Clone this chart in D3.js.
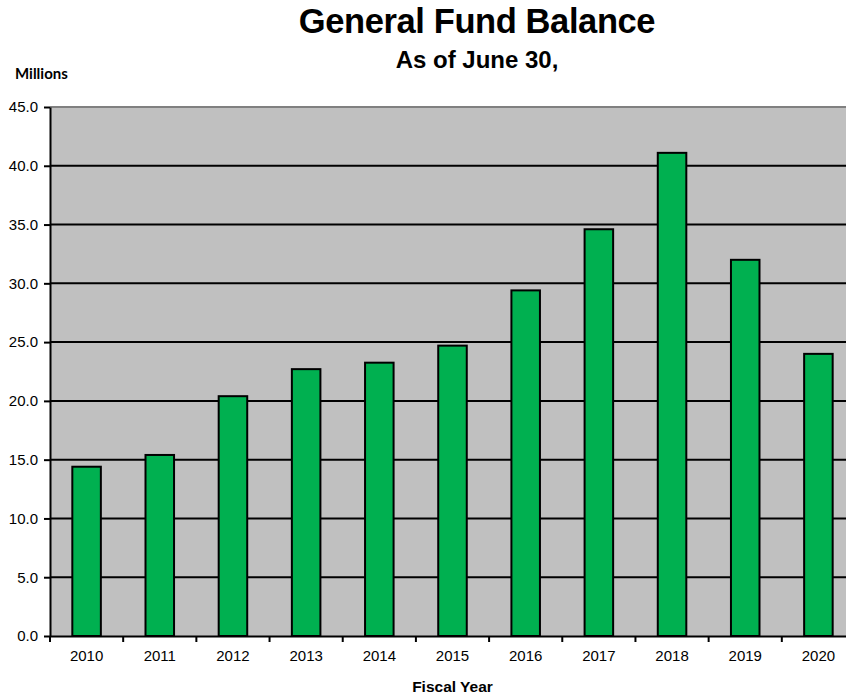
<!DOCTYPE html>
<html>
<head>
<meta charset="utf-8">
<script src="https://cdn.jsdelivr.net/npm/d3@7"></script>
<style>
  html, body { margin: 0; padding: 0; background: #fff; overflow: hidden; }
  svg { display: block; }
</style>
</head>
<body>
<svg id="chart" width="846" height="698"></svg>
<script>
// General Fund balance at fiscal year end, in millions
const years = ["2010", "2011", "2012", "2013", "2014", "2015", "2016", "2017", "2018", "2019", "2020"];
const balances = [14.4, 15.4, 20.4, 22.7, 23.25, 24.7, 29.4, 34.6, 41.1, 32.0, 24.0];
const yTicks = [0, 5, 10, 15, 20, 25, 30, 35, 40, 45];

const svg = d3.select("#chart");
const plot = { left: 50, right: 855, top: 107, bottom: 636 };

const xBand = d3.scaleBand().domain(years).range([plot.left, plot.right]).padding(0);
const xBar = d3.scaleBand().domain(years).range([plot.left, plot.right])
  .paddingInner(0.61).paddingOuter(0.305);
const y = d3.scaleLinear().domain([0, 45]).range([plot.bottom, plot.top]);

// plot background
svg.append("rect")
  .attr("x", plot.left).attr("y", plot.top)
  .attr("width", plot.right - plot.left).attr("height", plot.bottom - plot.top)
  .attr("fill", "#c0c0c0");

// top border of the plot area
svg.append("line")
  .attr("x1", plot.left).attr("x2", plot.right)
  .attr("y1", plot.top).attr("y2", plot.top)
  .attr("stroke", "#808080").attr("stroke-width", 2);

// horizontal gridlines
svg.append("g")
  .selectAll("line")
  .data(yTicks.filter(v => v > 0 && v < 45))
  .join("line")
  .attr("x1", plot.left).attr("x2", plot.right)
  .attr("y1", d => y(d)).attr("y2", d => y(d))
  .attr("stroke", "#000").attr("stroke-width", 2);

// bars
svg.append("g")
  .selectAll("rect")
  .data(years.map((yr, i) => ({ yr, v: balances[i] })))
  .join("rect")
  .attr("x", d => xBar(d.yr))
  .attr("y", d => y(d.v))
  .attr("width", xBar.bandwidth())
  .attr("height", d => y(0) - y(d.v))
  .attr("fill", "#00b050")
  .attr("stroke", "#000")
  .attr("stroke-width", 2);

// y axis
const yAxis = svg.append("g")
  .attr("transform", `translate(${plot.left},0)`)
  .call(d3.axisLeft(y).tickValues(yTicks).tickFormat(d3.format(".1f"))
    .tickSize(6).tickPadding(6).tickSizeOuter(0));
yAxis.select(".domain").attr("stroke", "#000").attr("stroke-width", 2);
yAxis.selectAll(".tick line").attr("stroke", "#000").attr("stroke-width", 2);
yAxis.selectAll(".tick text")
  .attr("font-family", "Liberation Sans, Arial, sans-serif")
  .attr("font-size", 15).attr("fill", "#000");

// x axis: labels centred in each category, tick marks on the category boundaries
const xAxis = svg.append("g")
  .attr("transform", `translate(0,${plot.bottom})`)
  .call(d3.axisBottom(xBand).tickSize(0).tickPadding(14).tickSizeOuter(0));
xAxis.select(".domain").attr("stroke", "#000").attr("stroke-width", 2);
xAxis.selectAll(".tick text")
  .attr("font-family", "Liberation Sans, Arial, sans-serif")
  .attr("font-size", 15).attr("fill", "#000");
xAxis.append("g")
  .selectAll("line")
  .data(years)
  .join("line")
  .attr("x1", d => xBand(d)).attr("x2", d => xBand(d))
  .attr("y1", 0).attr("y2", 6)
  .attr("stroke", "#000").attr("stroke-width", 2);

// titles
svg.append("text")
  .attr("x", 477).attr("y", 33)
  .attr("text-anchor", "middle")
  .attr("font-family", "Liberation Sans, Arial, sans-serif")
  .attr("font-weight", "bold").attr("font-size", 34.5)
  .attr("letter-spacing", -0.4)
  .text("General Fund Balance");

svg.append("text")
  .attr("x", 477).attr("y", 68)
  .attr("text-anchor", "middle")
  .attr("font-family", "Liberation Sans, Arial, sans-serif")
  .attr("font-weight", "bold").attr("font-size", 24)
  .text("As of June 30,");

svg.append("text")
  .attr("x", 15).attr("y", 79)
  .attr("font-family", "Lato, 'Open Sans', sans-serif")
  .attr("font-weight", "bold").attr("font-size", 15)
  .text("Millions");

svg.append("text")
  .attr("x", (plot.left + plot.right) / 2).attr("y", 692)
  .attr("text-anchor", "middle")
  .attr("font-family", "Liberation Sans, Arial, sans-serif")
  .attr("font-weight", "bold").attr("font-size", 15.5)
  .text("Fiscal Year");
</script>
</body>
</html>
